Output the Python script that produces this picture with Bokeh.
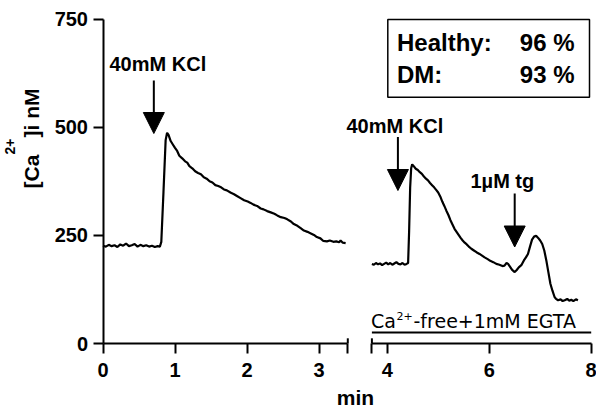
from bokeh.plotting import figure
from bokeh.models import (Range1d, LinearAxis, FixedTicker, Label, Arrow,
                          NormalHead, BoxAnnotation)
from bokeh.embed import file_html
from bokeh.resources import INLINE

# ---------------- data ----------------
# healthy segment, normal buffer (time in min, [Ca2+]i in nM)
left_t = [0.00, 0.04, 0.08, 0.12, 0.16, 0.20, 0.24, 0.28, 0.32, 0.36, 0.40, 0.44,
          0.48, 0.52, 0.56, 0.60, 0.64, 0.68, 0.72, 0.76, 0.79, 0.81, 0.84, 0.87,
          0.89, 0.91, 0.94, 0.97, 1.00, 1.03, 1.06, 1.10, 1.14, 1.17, 1.20, 1.24,
          1.28, 1.32, 1.36, 1.40, 1.44, 1.48, 1.52, 1.56, 1.60, 1.64, 1.68, 1.72,
          1.77, 1.82, 1.86, 1.91, 1.96, 2.01, 2.05, 2.09, 2.14, 2.19, 2.23, 2.28,
          2.33, 2.38, 2.42, 2.47, 2.52, 2.56, 2.61, 2.65, 2.70, 2.75, 2.79, 2.84,
          2.88, 2.93, 2.97, 3.02, 3.06, 3.11, 3.15, 3.20, 3.24, 3.28, 3.30, 3.33, 3.37]
left_ca = [226, 224, 228, 225, 227, 223, 229, 226, 231, 225, 227, 230,
           224, 228, 225, 227, 224, 226, 223, 225, 224, 235, 350, 470,
           487, 482, 468, 460, 452, 445, 434, 428, 421, 418, 410, 405,
           398, 394, 391, 384, 381, 375, 372, 366, 364, 361, 356, 354,
           349, 345, 341, 336, 331, 328, 325, 321, 318, 312, 310, 306,
           303, 300, 296, 292, 290, 287, 282, 276, 272, 266, 261, 258,
           255, 251, 246, 243, 237, 236, 238, 235, 236, 234, 238, 233, 232]

# Ca2+-free + 1 mM EGTA segment
right_t = [3.70, 3.74, 3.78, 3.82, 3.86, 3.90, 3.94, 3.98, 4.02, 4.06, 4.10, 4.14,
           4.18, 4.22, 4.26, 4.30, 4.34, 4.38, 4.41, 4.43, 4.45, 4.47, 4.49, 4.52,
           4.56, 4.60, 4.64, 4.68, 4.72, 4.76, 4.80, 4.84, 4.88, 4.92, 4.96, 5.00,
           5.04, 5.08, 5.12, 5.16, 5.20, 5.24, 5.28, 5.32, 5.36, 5.40, 5.44, 5.48,
           5.52, 5.56, 5.60, 5.65, 5.70, 5.75, 5.81, 5.86, 5.91, 5.97, 6.02, 6.08,
           6.14, 6.20, 6.26, 6.30, 6.34, 6.37, 6.41, 6.45, 6.50, 6.54, 6.58, 6.63,
           6.68, 6.72, 6.76, 6.80, 6.84, 6.88, 6.92, 6.96, 7.00, 7.04, 7.08, 7.12,
           7.16, 7.20, 7.24, 7.28, 7.31, 7.35, 7.40, 7.44, 7.48, 7.53, 7.57, 7.61,
           7.65, 7.70, 7.74]
right_ca = [184, 182, 186, 183, 185, 181, 184, 187, 183, 186, 182, 185,
            188, 184, 183, 186, 182, 184, 186, 260, 360, 405, 414, 410,
            404, 401, 396, 392, 386, 381, 377, 371, 366, 361, 355, 349,
            340, 328, 318, 307, 297, 285, 275, 265, 258, 251, 244, 238,
            233, 229, 224, 219, 215, 211, 207, 203, 199, 195, 191, 188,
            184, 182, 179, 180, 186, 184, 177, 170, 165, 170, 176, 181,
            192, 199, 207, 224, 240, 247, 249, 244, 238, 230, 215, 192,
            165, 138, 122, 108, 103, 100, 102, 98, 100, 103, 99, 101,
            98, 102, 100]

left_ticks = [0, 1, 2, 3]
right_ticks = [4, 6, 8]
y_ticks = [0, 250, 500, 750]
axis_break = [3.4, 3.7]          # end of first segment, start of second
egta_period = [3.7, 8.0]
kcl1_time, kcl2_time, tg_time = 0.706, 4.21, 6.50
legend_names = ["Healthy:", "DM:"]
legend_values = ["96 %", "93 %"]

# ---------------- layout (pixel geometry of the picture) ----------------
W, H = 596, 410
X0L, PX_L = 102.5, 72.0        # t = 0 position, px per min (first segment)
X8R, PX_R = 590.7, 51.0        # t = 8 position, px per min (second segment)
Y0, PX_Y = 343.0, 324.5 / 750  # Ca = 0 position, px per nM


def xl(px):  # pixel -> first-segment time
    return (px - X0L) / PX_L


def xr(px):  # pixel -> second-segment time
    return 8 + (px - X8R) / PX_R


def yv(py):  # pixel -> nM
    return (Y0 - py) / PX_Y


FONT = "Liberation Sans"

p = figure(width=W, height=H, output_backend="svg", toolbar_location=None,
           x_range=Range1d(xl(0), xl(W)), y_range=Range1d(yv(H), yv(0)),
           x_axis_location=None, y_axis_location=None,
           min_border=0, min_border_left=0, min_border_right=0,
           min_border_top=0, min_border_bottom=0)
p.extra_x_ranges = {"right": Range1d(xr(0), xr(W))}
p.outline_line_color = None
p.background_fill_color = "white"
p.border_fill_color = "white"
p.grid.visible = False
p.xgrid.visible = False
p.ygrid.visible = False


def style_axis(ax):
    ax.axis_line_width = 2
    ax.axis_line_color = "black"
    ax.major_tick_line_width = 2
    ax.major_tick_line_color = "black"
    ax.major_tick_out = 10
    ax.major_tick_in = 0
    ax.minor_tick_out = 0
    ax.minor_tick_in = 0
    ax.major_label_text_font = FONT
    ax.major_label_text_font_style = "bold"
    ax.major_label_text_font_size = "20px"
    ax.major_label_text_color = "black"


yax = LinearAxis(ticker=FixedTicker(ticks=y_ticks), bounds=(0, 750),
                 fixed_location=0)
style_axis(yax)
yax.major_label_standoff = 5
p.add_layout(yax, "left")

ax1 = LinearAxis(ticker=FixedTicker(ticks=left_ticks + [axis_break[0]]),
                 bounds=(0, axis_break[0]),
                 major_label_overrides={axis_break[0]: ""},
                 fixed_location=0)
style_axis(ax1)
ax1.major_label_standoff = 9
p.add_layout(ax1, "below")

ax2 = LinearAxis(x_range_name="right",
                 ticker=FixedTicker(ticks=[axis_break[1]] + right_ticks),
                 bounds=(axis_break[1], right_ticks[-1]),
                 major_label_overrides={axis_break[1]: ""},
                 fixed_location=0)
style_axis(ax2)
ax2.major_label_standoff = 9
p.add_layout(ax2, "below")

# inward part of the break caps
p.segment(x0=[axis_break[0]], y0=[0], x1=[axis_break[0]], y1=[12],
          line_width=2, color="black")
p.segment(x0=[axis_break[1]], y0=[0], x1=[axis_break[1]], y1=[12],
          line_width=2, color="black", x_range_name="right")

# traces
p.line(left_t, left_ca, line_width=2.2, color="black")
p.line(right_t, right_ca, line_width=2.2, color="black", x_range_name="right")

# EGTA bar
p.segment(x0=[egta_period[0]], y0=[yv(332)], x1=[egta_period[1]], y1=[yv(332)],
          line_width=2, color="black", x_range_name="right")

ROT = 1.5707963


def lab(px, py, text, size, bold=True, align="left", rng="default",
        rotated=False, font=FONT):
    """Place a text by the pixel position of its baseline start (or end)."""
    off = 0.32 * size          # renderer puts 'alphabetic' a bit low
    if rotated:
        px -= off + 4
    else:
        py -= off
    xv = xr(px) if rng == "right" else xl(px)
    p.add_layout(Label(x=xv, y=yv(py), text=text, x_range_name=rng,
                       text_font=font, text_font_size=f"{size}px",
                       text_font_style="bold" if bold else "normal",
                       text_align=align, text_baseline="alphabetic",
                       angle=ROT if rotated else 0, text_color="black"))


# EGTA text
lab(370.5, 326.5, "Ca", 19, bold=False, rng="right", font="DejaVu Sans")
lab(396, 319, "2+", 11, bold=False, rng="right", font="DejaVu Sans")
lab(413, 326.5, "-free+1mM EGTA", 19, bold=False, rng="right",
    font="DejaVu Sans")

# axis titles
lab(355, 404, "min", 21, align="center")
lab(42, 188, "[Ca", 21, rotated=True)
lab(18, 154, "2+", 14, rotated=True)
lab(42, 137, "]i nM", 21, rotated=True)

# stimulus annotations
lab(109, 70, "40mM KCl", 20)
lab(346, 131.5, "40mM KCl", 20, rng="right")
lab(470, 186.5, "1\u00b5M tg", 20, rng="right")

head = dict(size=21, fill_color="black", line_color="black", line_width=1)
p.add_layout(Arrow(x_start=kcl1_time, y_start=yv(80), x_end=kcl1_time,
                   y_end=yv(133), line_width=2, line_color="black",
                   end=NormalHead(**head)))
p.add_layout(Arrow(x_start=kcl2_time, y_start=yv(136.5), x_end=kcl2_time,
                   y_end=yv(190), line_width=2, line_color="black",
                   end=NormalHead(**head), x_range_name="right"))
p.add_layout(Arrow(x_start=tg_time, y_start=yv(193), x_end=tg_time,
                   y_end=yv(246.5), line_width=2, line_color="black",
                   end=NormalHead(**head), x_range_name="right"))

# legend box
p.add_layout(BoxAnnotation(left=xr(387.3), right=xr(589), top=yv(19),
                           bottom=yv(96.7), x_range_name="right", fill_alpha=0,
                           line_color="black", line_width=1.5, line_alpha=1))
for i, (nm, v) in enumerate(zip(legend_names, legend_values)):
    yy = 50 + i * 31.7
    lab(396.5, yy, nm, 24, rng="right")
    lab(574, yy, v, 24, align="right", rng="right")

open("out.html", "w").write(file_html(p, INLINE))
